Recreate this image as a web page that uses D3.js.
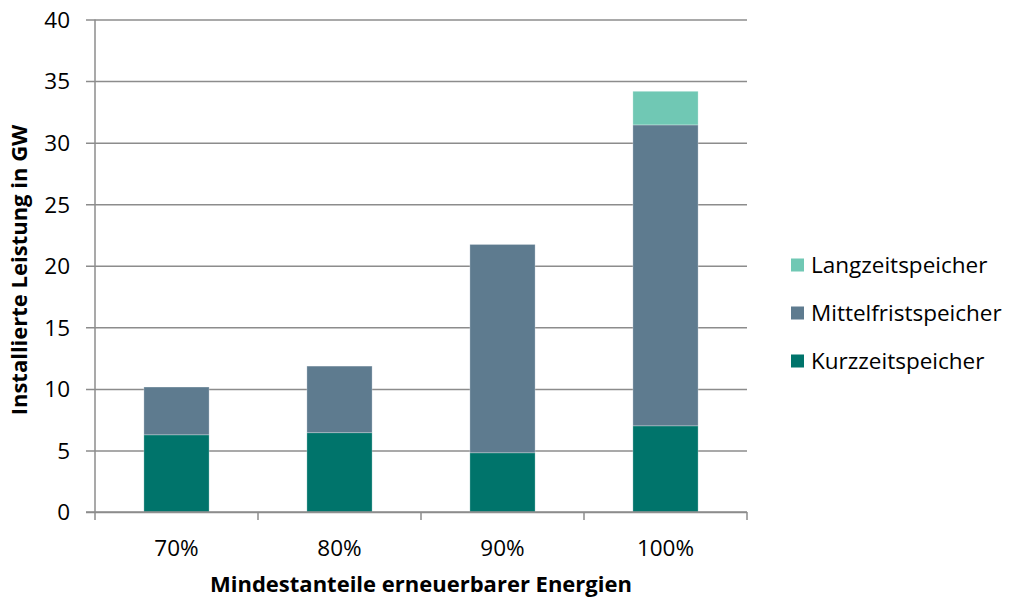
<!DOCTYPE html>
<html><head><meta charset="utf-8">
<script src="https://cdn.jsdelivr.net/npm/d3@7"></script>
<style>body{margin:0;background:#fff}svg text{font-family:"Open Sans",sans-serif;fill:#000}</style>
</head><body><svg id="c" width="1017" height="603"></svg>
<script>
const categories = ["70%", "80%", "90%", "100%"];
const seriesNames = ["Kurzzeitspeicher", "Mittelfristspeicher", "Langzeitspeicher"];
const kurzzeit = [6.27, 6.44, 4.81, 7.0];
const mittelfrist = [3.88, 5.41, 16.92, 24.44];
const langzeit = [0, 0, 0, 2.73];
const colors = ["#00746b", "#5e7b8f", "#70c8b4"];
const yTicks = [0, 5, 10, 15, 20, 25, 30, 35, 40];

const svg = d3.select("#c");
const m = {l: 95, r: 747, t: 19.5, b: 512};
const x = d3.scaleBand().domain(categories).range([m.l, m.r]).paddingInner(0.6).paddingOuter(0.3);
const xb = d3.scaleBand().domain(categories).range([m.l, m.r]);
const y = d3.scaleLinear().domain([0, 40]).range([m.b, m.t]);
const FS = 22.5;
const TS = 22;

const data = categories.map((c, i) => ({cat: c, Kurzzeitspeicher: kurzzeit[i], Mittelfristspeicher: mittelfrist[i], Langzeitspeicher: langzeit[i]}));
const stack = d3.stack().keys(seriesNames)(data);

// gridlines
const yAxis = d3.axisLeft(y).tickValues(yTicks).tickSize(-(m.r - m.l)).tickSizeOuter(0);
const gy = svg.append("g").attr("transform", `translate(${m.l},0)`).call(yAxis);
gy.select(".domain").remove();
gy.selectAll(".tick line").attr("stroke", "#8c8c8c").attr("stroke-width", 1.5).attr("x1", -9);
gy.selectAll(".tick text").attr("font-size", FS).attr("font-family", "'Open Sans',sans-serif").attr("fill", "#000").attr("dy", "0.35em").attr("x", -25);

// bars
svg.append("g").selectAll("g").data(stack).join("g").attr("fill", (d, i) => colors[i])
  .selectAll("rect").data(d => d.filter(v => v[1] - v[0] > 0)).join("rect")
  .attr("x", d => x(d.data.cat)).attr("width", x.bandwidth())
  .attr("y", d => y(d[1])).attr("height", d => y(d[0]) - y(d[1]))
  .attr("stroke", "#ffffff").attr("stroke-opacity", 0.35).attr("stroke-width", 0.8);

// y axis line
svg.append("line").attr("x1", m.l).attr("x2", m.l).attr("y1", m.t).attr("y2", m.b).attr("stroke", "#8c8c8c").attr("stroke-width", 1.5);

// x axis
const gx = svg.append("g").attr("transform", `translate(0,${m.b})`);
gx.append("line").attr("x1", m.l - 9).attr("x2", m.r).attr("stroke", "#8c8c8c").attr("stroke-width", 1.5);
const bounds = categories.map(c => xb(c)).concat([m.r]);
gx.selectAll("line.tk").data(bounds).join("line").attr("class", "tk")
  .attr("x1", d => d).attr("x2", d => d).attr("y1", 0).attr("y2", 8).attr("stroke", "#8c8c8c").attr("stroke-width", 1.5);
gx.selectAll("text").data(categories).join("text")
  .attr("x", d => xb(d) + xb.bandwidth() / 2).attr("y", 36).attr("dy", "0.35em").attr("text-anchor", "middle").attr("font-size", FS).text(d => d);

// titles
svg.append("text").attr("x", 421).attr("y", 592).attr("text-anchor", "middle")
  .attr("font-size", TS).attr("font-weight", "bold").text("Mindestanteile erneuerbarer Energien");
svg.append("text").attr("transform", "translate(27,270) rotate(-90)").attr("text-anchor", "middle")
  .attr("font-size", TS).attr("font-weight", "bold").text("Installierte Leistung in GW");

// legend
const legendItems = seriesNames.slice().reverse();
const lg = svg.append("g");
legendItems.forEach((n, i) => {
  const cy = 265 + i * 48;
  lg.append("rect").attr("x", 791).attr("y", cy - 6.5).attr("width", 13).attr("height", 13).attr("fill", colors[seriesNames.indexOf(n)]);
  lg.append("text").attr("x", 811).attr("y", cy).attr("dy", "0.35em").attr("font-size", FS).text(n);
});
</script></body></html>
